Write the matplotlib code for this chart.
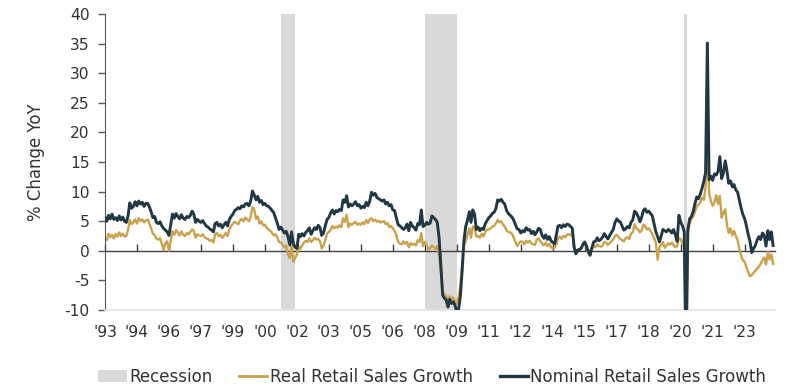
import numpy as np
import pandas as pd
import matplotlib
matplotlib.use('Agg')
import matplotlib.pyplot as plt
import matplotlib.dates as mdates
from matplotlib.patches import Patch
from matplotlib.lines import Line2D

# monthly YoY % change, Jan 1993 - May 2024
nominal = [
    5.6, 5.0, 6.0, 5.4, 6.2, 5.3, 5.6, 5.1, 5.9, 5.2, 5.7, 5.0,   # 1993
    4.8, 6.0, 8.1, 7.2, 7.5, 8.3, 7.6, 8.4, 7.9, 8.2, 7.5, 8.0,   # 1994
    8.0, 7.4, 6.6, 5.6, 5.8, 4.8, 4.6, 4.9, 4.2, 3.8, 3.5, 3.2,   # 1995
    2.6, 4.5, 6.2, 5.5, 6.3, 5.8, 5.4, 6.1, 5.5, 5.3, 5.8, 5.6,   # 1996
    6.0, 6.7, 6.2, 4.8, 5.3, 5.0, 4.8, 5.1, 4.6, 4.2, 4.0, 3.7,   # 1997
    3.5, 3.2, 4.6, 4.8, 4.2, 4.5, 3.9, 4.4, 4.8, 4.2, 5.3, 5.8,   # 1998
    6.2, 6.8, 7.0, 7.3, 7.1, 7.6, 7.4, 7.9, 8.0, 7.6, 8.4, 10.1,  # 1999
    9.4, 8.6, 9.2, 8.2, 8.5, 7.8, 8.0, 7.6, 7.5, 7.2, 6.8, 6.4,   # 2000
    5.5, 4.6, 3.6, 4.0, 3.5, 3.0, 3.3, 2.4, 1.0, 3.2, 1.2, 0.6,   # 2001
    0.4, 2.8, 2.4, 2.9, 2.5, 3.1, 3.4, 3.9, 2.8, 3.4, 3.9, 3.6,   # 2002
    4.3, 3.9, 2.6, 3.0, 4.2, 5.3, 5.6, 6.4, 6.9, 6.2, 6.8, 6.6,   # 2003
    7.0, 6.8, 8.6, 8.2, 9.3, 7.4, 7.9, 7.6, 7.9, 8.3, 7.6, 7.8,   # 2004
    7.2, 7.5, 7.3, 8.2, 7.6, 8.4, 9.9, 9.4, 9.7, 9.0, 8.8, 8.6,   # 2005
    8.4, 8.6, 7.9, 8.2, 7.6, 7.8, 6.9, 6.8, 5.5, 4.4, 4.2, 3.9,   # 2006
    3.6, 3.9, 4.5, 3.4, 4.8, 4.2, 3.9, 3.5, 4.6, 4.4, 6.9, 4.1,   # 2007
    4.3, 4.8, 4.5, 4.7, 5.9, 5.6, 5.3, 4.8, 2.2, -2.4, -7.5, -8.0,  # 2008
    -8.3, -9.5, -8.2, -8.9, -8.6, -9.2, -10.4, -9.8, -7.6, -3.3, 1.8, 4.1,  # 2009
    5.2, 6.6, 4.8, 6.9, 6.2, 3.6, 4.0, 3.4, 3.8, 3.6, 4.6, 5.1,   # 2010
    5.6, 5.9, 6.3, 6.5, 7.1, 8.6, 8.4, 8.7, 8.2, 7.9, 6.8, 6.3,   # 2011
    6.0, 5.7, 5.2, 4.4, 3.7, 3.6, 3.0, 3.4, 3.2, 3.9, 3.5, 3.6,   # 2012
    2.9, 3.3, 2.7, 3.2, 3.8, 3.6, 2.6, 2.1, 2.7, 1.9, 2.4, 1.7,   # 2013
    1.4, 1.2, 2.6, 4.2, 4.3, 3.9, 4.4, 4.1, 4.5, 4.4, 4.1, 3.8,   # 2014
    0.6, -0.5, 0.1, 0.2, 0.4, 1.1, 1.5, 0.8, -0.1, -0.7, 0.5, 1.5,  # 2015
    1.6, 2.2, 1.7, 1.9, 2.3, 2.9, 2.4, 2.0, 2.6, 3.1, 3.6, 4.8,   # 2016
    5.4, 5.0, 4.9, 4.2, 3.5, 3.7, 4.1, 3.9, 4.8, 5.2, 6.7, 6.4,   # 2017
    5.8, 4.9, 5.6, 6.8, 7.1, 6.5, 6.7, 6.3, 5.9, 4.6, 3.2, 2.4,   # 2018
    1.5, 2.5, 3.6, 3.4, 3.2, 3.6, 3.4, 3.0, 3.6, 2.7, 1.6, 6.0,   # 2019
    4.8, 4.2, 3.2, -19.9, 3.5, 5.4, 5.8, 6.6, 8.0, 9.1, 8.8, 9.6,  # 2020
    10.6, 11.8, 13.2, 35.1, 12.0, 12.6, 11.9, 13.0, 12.8, 13.4, 15.9, 12.2,  # 2021
    13.1, 15.2, 13.6, 11.4, 11.8, 10.8, 11.2, 10.3, 9.9, 8.6, 7.2, 6.1,  # 2022
    5.4, 4.1, 2.8, 1.6, -0.3, 0.4, 0.9, 1.8, 2.4, 1.9, 3.0, 2.6,  # 2023
    0.8, 3.4, 1.9, 3.2, 0.9,                                      # 2024
]
real = [
    2.2, 1.8, 2.9, 2.3, 2.7, 2.1, 2.8, 2.4, 3.1, 2.5, 2.9, 2.4,   # 1993
    2.5, 3.6, 5.2, 4.5, 4.8, 5.3, 4.6, 5.5, 5.0, 5.3, 4.8, 5.1,   # 1994
    5.3, 4.6, 3.8, 2.9, 2.7, 2.0, 1.9, 2.1, 1.2, 0.1, 1.3, 1.6,   # 1995
    0.0, 1.8, 3.3, 2.7, 3.5, 3.1, 2.6, 3.3, 2.7, 2.5, 3.0, 2.8,   # 1996
    3.2, 3.6, 3.4, 2.2, 2.8, 2.6, 2.5, 2.8, 2.3, 2.1, 2.0, 1.7,   # 1997
    1.8, 1.4, 2.8, 3.0, 2.5, 2.7, 2.2, 2.6, 3.0, 2.5, 3.6, 4.2,   # 1998
    4.6, 4.9, 4.7, 4.5, 5.1, 5.4, 5.0, 5.6, 5.3, 5.0, 5.7, 7.4,   # 1999
    7.0, 5.4, 5.8, 4.6, 5.0, 4.3, 4.4, 3.9, 3.6, 3.4, 3.0, 2.6,   # 2000
    2.8, 2.2, 1.5, 1.4, 1.0, 0.6, 0.9, -0.7, -1.2, 1.0, -1.9, -1.2,  # 2001
    -0.6, 0.8, 0.3, 0.9, 1.4, 1.7, 1.5, 2.1, 1.5, 1.8, 2.2, 1.9,  # 2002
    2.0, 1.6, 0.4, 0.8, 1.8, 2.9, 3.2, 3.5, 4.2, 3.8, 4.1, 3.9,   # 2003
    4.3, 4.0, 5.5, 4.9, 6.1, 4.0, 4.6, 4.4, 4.7, 4.9, 4.4, 4.6,   # 2004
    4.4, 4.8, 4.5, 5.2, 4.7, 5.3, 5.5, 5.0, 5.3, 4.9, 5.1, 4.8,   # 2005
    4.9, 5.0, 4.5, 4.7, 4.0, 4.2, 3.8, 3.4, 2.6, 1.5, 1.2, 1.1,   # 2006
    1.6, 1.2, 1.5, 0.6, 1.3, 1.0, 1.2, 0.9, 1.8, 1.5, 3.0, 0.8,   # 2007
    1.5, 0.9, 0.2, 0.5, 0.9, 0.6, 0.3, 0.8, -1.0, -3.5, -6.8, -7.3,  # 2008
    -7.6, -8.4, -7.7, -8.2, -7.9, -8.6, -8.9, -7.8, -5.8, -2.4, 1.0, 1.6,  # 2009
    2.7, 3.8, 2.2, 4.1, 3.9, 2.4, 2.5, 2.2, 2.9, 2.4, 3.2, 3.6,   # 2010
    3.6, 3.8, 4.1, 4.2, 4.6, 5.2, 4.8, 5.0, 4.4, 4.1, 3.4, 3.2,   # 2011
    3.1, 2.9, 2.2, 1.5, 0.8, 1.3, 1.6, 1.5, 1.1, 1.7, 1.4, 1.7,   # 2012
    1.2, 1.1, 1.0, 1.9, 2.1, 1.6, 1.3, 0.9, 1.4, 0.8, 1.2, 0.6,   # 2013
    0.4, 0.5, 1.1, 2.2, 2.4, 2.0, 2.5, 2.3, 2.7, 2.8, 2.6, 3.1,   # 2014
    0.7, -0.4, 0.2, 0.3, 0.4, 1.0, 1.3, 0.6, -0.4, -0.9, 0.3, 0.9,  # 2015
    0.6, 1.1, 0.8, 0.7, 0.9, 1.5, 1.4, 1.0, 1.3, 1.6, 1.9, 2.5,   # 2016
    2.7, 2.3, 2.0, 1.8, 1.6, 2.1, 2.3, 2.0, 2.9, 3.1, 4.5, 3.8,   # 2017
    3.6, 3.1, 3.4, 4.4, 4.2, 3.6, 3.8, 3.4, 2.8, 2.2, 1.3, -1.5,  # 2018
    0.6, 1.0, 1.5, 0.5, 0.9, 1.3, 1.0, 1.4, 0.9, 0.6, 0.8, 2.2,   # 2019
    2.0, 1.2, 0.3, -18.0, 3.0, 4.6, 5.3, 5.8, 6.6, 7.6, 7.8, 8.2,  # 2020
    9.0, 8.6, 10.8, 18.6, 9.8, 8.4, 7.6, 8.2, 9.4, 7.9, 9.3, 5.6,  # 2021
    6.4, 7.0, 4.5, 3.0, 3.8, 2.6, 3.4, 2.5, 1.8, 0.3, -0.8, -1.6,  # 2022
    -1.9, -2.8, -3.6, -4.3, -4.1, -3.7, -3.4, -3.0, -2.7, -2.2, -1.6, -1.1,  # 2023
    -2.3, -0.2, -1.5, -0.6, -2.2,                                 # 2024
]
recessions = [('2001-04-01', '2001-12-01'),
              ('2008-01-01', '2009-07-01'),
              ('2020-02-20', '2020-04-10')]

dates = pd.date_range('1993-01-01', periods=len(nominal), freq='MS')
tick_dates = pd.date_range('1993-01-01', '2023-01-01', freq='18MS')

gold = '#C9A24B'
navy = '#1F3844'
grey = '#D9D9D9'
txt = '#333333'

plt.rcParams['font.family'] = 'DejaVu Sans'
plt.rcParams['axes.unicode_minus'] = False
fig = plt.figure(figsize=(8.11, 3.85), dpi=100)
ax = fig.add_axes([0.1295, 0.1948, 0.826, 0.7688])

for start, end in recessions:
    ax.axvspan(pd.Timestamp(start), pd.Timestamp(end), color=grey, lw=0, zorder=0)

ax.plot(dates, real, color=gold, lw=1.7, zorder=2)
ax.plot(dates, nominal, color=navy, lw=2.1, zorder=3)

ax.set_ylim(-10, 40)
ax.set_xlim(pd.Timestamp('1993-01-01'), pd.Timestamp('2024-06-01'))
ax.set_yticks(np.arange(-10, 41, 5))
ax.set_ylabel('% Change YoY', fontsize=12, color=txt, labelpad=14)

ax.set_xticks(tick_dates)
ax.xaxis.set_major_formatter(mdates.DateFormatter("'%y"))
ax.tick_params(axis='x', length=0, pad=11, labelsize=11.2, labelcolor=txt)
ax.tick_params(axis='y', length=5, width=1, color='#595959', pad=6, labelsize=11.2, labelcolor=txt)

for s in ['top', 'right']:
    ax.spines[s].set_visible(False)
ax.spines['left'].set_color('#595959')
ax.spines['bottom'].set_color('#E4E4E4')
ax.spines['bottom'].set_linewidth(1.2)

# zero line carrying the tick marks
zero_ax = ax.secondary_xaxis(0.2)
zero_ax.set_xticks(tick_dates)
zero_ax.set_xticklabels([])
zero_ax.tick_params(axis='x', direction='in', length=5, width=1, color='#404040')
zero_ax.spines['bottom'].set_color('#404040')
zero_ax.spines['bottom'].set_linewidth(1.0)

handles = [Patch(facecolor=grey, edgecolor='none'),
           Line2D([], [], color=gold, lw=2),
           Line2D([], [], color=navy, lw=2.4)]
fig.legend(handles, ['Recession', 'Real Retail Sales Growth', 'Nominal Retail Sales Growth'],
           loc='center', bbox_to_anchor=(0.533, 0.022), ncol=3, frameon=False,
           fontsize=12, labelcolor=txt, handlelength=1.7, handletextpad=0.15,
           columnspacing=1.6)

fig.savefig('out.png', dpi=100)
